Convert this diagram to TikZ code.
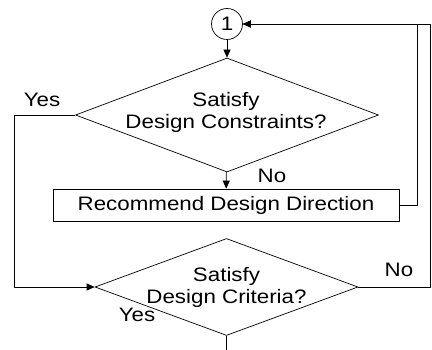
\documentclass[tikz,border=0pt]{standalone}
\usepackage{fontspec}
\newfontfamily\chartfont{Liberation Sans}[FakeStretch=1.145]
\usetikzlibrary{arrows.meta,positioning,shapes.geometric}

\begin{document}
\begin{tikzpicture}[
x=1pt, y=-1pt,
font=\chartfont\fontsize{19.5}{22}\selectfont,
decision/.style={draw, diamond, inner sep=0pt},
action/.style={draw, minimum width=346pt, minimum height=32pt, inner sep=0pt},
conn/.style={draw, circle, minimum size=31pt, inner sep=0pt},
qtext/.style={align=center, inner sep=0pt},
lbl/.style={inner sep=0pt},
line/.style={line width=0.7pt},
arr/.style={line, -{Triangle[length=8pt, width=7pt]}}
]
\useasboundingbox (0,0) rectangle (432,350);

\node[conn, line] (one) at (227,24) {1};
\node[decision, line, minimum width=303pt, minimum height=114pt] (cons) at (227,115) {};
\node[qtext] (consq) at (226,112) {Satisfy\\Design Constraints?};
\node[action, line] (rec) at (226,205) {Recommend Design Direction};
\node[decision, line, minimum width=263pt, minimum height=97pt] (crit) at (226.5,287) {};
\node[qtext] (critq) at (226.5,287) {Satisfy\\Design Criteria?};

% branch labels
\node[lbl] (yes1) at (42,100) {Yes};
\node[lbl] (no1) at (272,176) {No};
\node[lbl] (no2) at (399,270) {No};
\node[lbl] (yes2) at (137,315) {Yes};
\coordinate (out) at ([yshift=-16pt]crit.south);

\draw[arr] (one) -- (cons);
\draw[arr] (cons) -- (rec);
\draw[arr] (cons.west) -- ++(-61,0) |- (crit.west);
\draw[arr] (rec.east) -- ++(18,0) |- (one.east);
\draw[arr] (crit.east) -- ++(72,0) |- (one.east);
\draw[line] (crit.south) -- (out);
\end{tikzpicture}
\end{document}
